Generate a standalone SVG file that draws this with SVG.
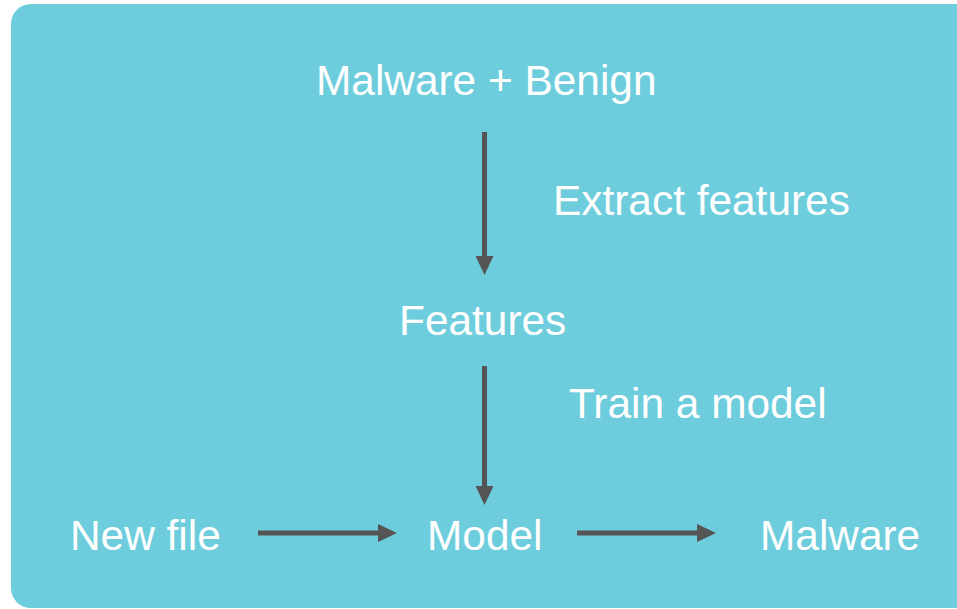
<svg xmlns="http://www.w3.org/2000/svg" width="957" height="609" viewBox="0 0 957 609">
  <style>
    .lbl { font-family: "Liberation Sans", Arial, sans-serif; font-size: 42.4px; fill: #ffffff; }
    .edge { stroke: #555555; stroke-width: 5; fill: none; marker-end: url(#head); }
  </style>
  <defs>
    <marker id="head" markerUnits="userSpaceOnUse" markerWidth="19" markerHeight="18" refX="0" refY="9" orient="auto" viewBox="0 0 19 18">
      <path d="M0,0 L19,9 L0,18 Z" fill="#555555"/>
    </marker>
  </defs>

  <!-- panel -->
  <rect x="11" y="4" width="990" height="604" rx="20" ry="20" fill="#6ecddc"/>

  <!-- connectors -->
  <g id="connectors">
    <line class="edge" x1="484.5" y1="132" x2="484.5" y2="256"/>
    <line class="edge" x1="484.5" y1="366" x2="484.5" y2="486"/>
    <line class="edge" x1="258" y1="533" x2="378" y2="533"/>
    <line class="edge" x1="577" y1="533" x2="697" y2="533"/>
  </g>

  <!-- nodes -->
  <g id="node-samples"><text class="lbl" x="316" y="95">Malware + Benign</text></g>
  <g id="label-extract"><text class="lbl" x="553" y="215">Extract features</text></g>
  <g id="node-features"><text class="lbl" x="399" y="335">Features</text></g>
  <g id="label-train"><text class="lbl" x="569" y="418">Train a model</text></g>
  <g id="node-newfile"><text class="lbl" x="70" y="550">New file</text></g>
  <g id="node-model"><text class="lbl" x="427" y="550">Model</text></g>
  <g id="node-malware"><text class="lbl" x="760" y="550">Malware</text></g>
</svg>
